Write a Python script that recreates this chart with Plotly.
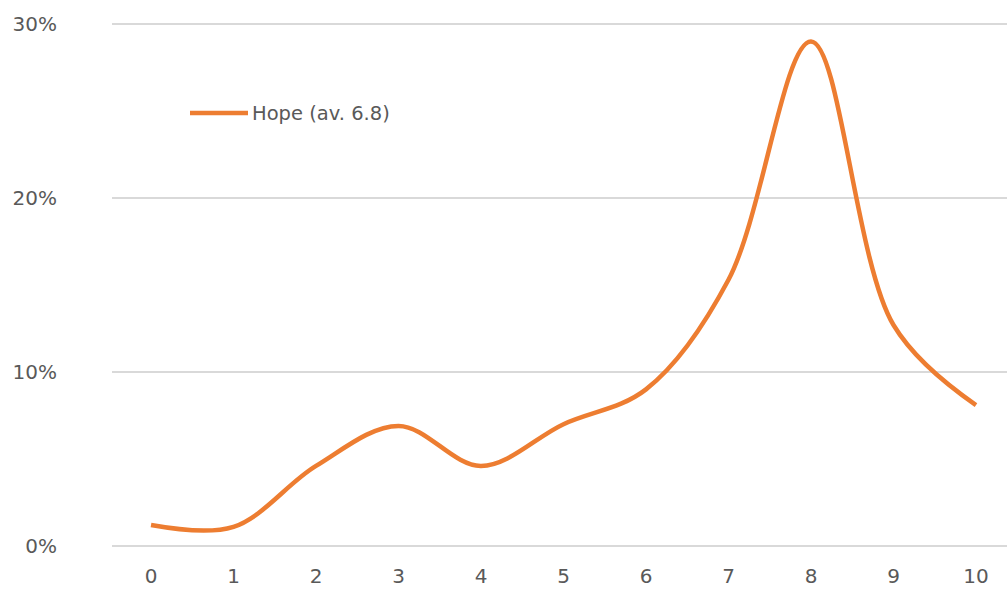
import plotly.graph_objects as go

# Score distribution (0-10) and the share of respondents at each score
scores = [0, 1, 2, 3, 4, 5, 6, 7, 8, 9, 10]
share = [0.012, 0.011, 0.046, 0.069, 0.046, 0.070, 0.090, 0.153, 0.290, 0.127, 0.081]
series_name = "Hope (av. 6.8)"
y_ticks = [0, 0.10, 0.20, 0.30]
y_tick_text = ["0%", "10%", "20%", "30%"]

ORANGE = "#ED7D31"
GREY_TEXT = "#595959"
GRID = "#D9D9D9"
FONT = "'DejaVu Sans', sans-serif"

fig = go.Figure()
fig.add_trace(go.Scatter(
    x=scores, y=share, name=series_name, mode="lines",
    line=dict(color=ORANGE, width=4.5, shape="spline", smoothing=1.0),
    showlegend=False, hoverinfo="skip",
))

# Legend entry: a short orange stroke followed by the series label
fig.add_shape(type="line", xref="paper", yref="paper",
              x0=(190 - 112) / 895, x1=(248 - 112) / 895,
              y0=(547 - 113) / 524, y1=(547 - 113) / 524,
              line=dict(color=ORANGE, width=4.5))
fig.add_annotation(text=series_name, xref="paper", yref="paper",
                   x=(250 - 112) / 895, y=(547 - 113) / 524,
                   xanchor="left", yanchor="middle", showarrow=False,
                   font=dict(family=FONT, size=19.5, color=GREY_TEXT))

fig.update_layout(
    width=1007, height=589,
    margin=dict(l=112, r=0, t=23, b=42),
    plot_bgcolor="white", paper_bgcolor="white",
    font=dict(family=FONT, color=GREY_TEXT, size=20),
    xaxis=dict(range=[-0.473, 10.376], tickvals=scores,
               ticktext=[str(s) for s in scores],
               showgrid=False, zeroline=False, showline=False,
               ticks="", ticklabelstandoff=15, automargin=False,
               tickfont=dict(size=20, color=GREY_TEXT)),
    yaxis=dict(range=[-0.0006, 0.3006], tickvals=y_ticks, ticktext=y_tick_text,
               showgrid=True, gridcolor=GRID, gridwidth=1.5,
               zeroline=False, showline=False, ticks="",
               ticklabelstandoff=54, automargin=False,
               tickfont=dict(size=20, color=GREY_TEXT)),
)

fig.write_html("out.html")
